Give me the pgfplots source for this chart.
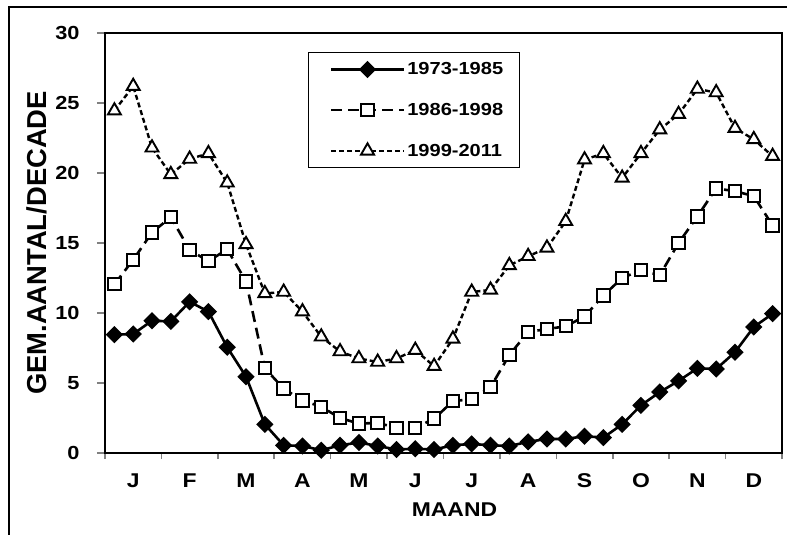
\documentclass[border=0pt]{standalone}
\usepackage{fontspec}
\setmainfont{Liberation Sans}[FakeStretch=1.15]
\newfontfamily\plainsans{Liberation Sans}
\usepackage{pgfplots}
\pgfplotsset{compat=1.18}
\pgfplotstableread{
x a b c
1 8.45 12.05 24.45
2 8.5 13.8 26.2
3 9.45 15.75 21.8
4 9.4 16.85 19.9
5 10.8 14.5 21.0
6 10.1 13.7 21.4
7 7.55 14.55 19.3
8 5.45 12.25 14.9
9 2.05 6.05 11.4
10 0.55 4.6 11.5
11 0.5 3.75 10.1
12 0.2 3.3 8.3
13 0.55 2.5 7.25
14 0.75 2.1 6.75
15 0.5 2.15 6.5
16 0.25 1.8 6.75
17 0.3 1.8 7.35
18 0.25 2.45 6.2
19 0.55 3.7 8.15
20 0.65 3.85 11.5
21 0.55 4.7 11.65
22 0.5 7.0 13.4
23 0.8 8.65 14.05
24 1.0 8.85 14.65
25 1.0 9.05 16.55
26 1.2 9.75 20.95
27 1.1 11.25 21.4
28 2.05 12.5 19.65
29 3.4 13.05 21.4
30 4.35 12.7 23.1
31 5.15 15.0 24.2
32 6.05 16.9 26.0
33 6.0 18.9 25.75
34 7.2 18.7 23.2
35 9.0 18.35 22.4
36 9.95 16.25 21.2
}\datatable
\begin{document}
\begin{tikzpicture}
\path[use as bounding box] (0,0) rectangle (787bp,535bp);
\draw[line width=1.4bp] (9bp,-5bp) -- (9bp,528bp) -- (800bp,528bp);
\begin{axis}[
  at={(105bp,82bp)}, anchor=south west,
  scale only axis, width=677bp, height=420bp,
  xmin=0.5, xmax=36.5, ymin=0, ymax=30,
  axis line style={line width=2.4bp},
  xtick={2,5,...,35},
  xticklabels={J,F,M,A,M,J,J,A,S,O,N,D},
  major x tick style={draw=none},
  minor xtick={0.5,3.5,...,36.5},
  minor x tick style={line width=1.6bp},
  minor tick length=6bp,
  ytick={0,5,...,30},
  major y tick style={line width=1.6bp},
  major tick length=8bp,
  tick align=outside,
  xtick pos=lower, ytick pos=left,
  yticklabel style={font=\fontsize{19}{22}\selectfont\bfseries, xshift=-14bp},
  xticklabel style={font=\fontsize{20}{23}\selectfont\bfseries, yshift=-9bp},
  /pgf/number format/assume math mode=true,
  xlabel={MAAND},
  xlabel style={font=\fontsize{20}{23}\selectfont\bfseries, xshift=11bp, yshift=-8bp},
  ylabel={\plainsans\bfseries\fontsize{27.5}{30}\selectfont GEM.AANTAL/DECADE},
  ylabel style={at={(rel axis cs:0,0.5)}, anchor=south, yshift=54bp},
  legend style={at={(0.2999,0.9548)}, anchor=north west, draw=black, line width=1.4bp,
     font=\fontsize{17.5}{21}\selectfont\bfseries, inner xsep=14bp, inner ysep=8bp,
     row sep=23bp, cells={anchor=west}},
  legend image code/.code={\path (-7bp,0bp); \draw[mark repeat=2,mark phase=2,#1] plot coordinates {(0bp,0bp) (36.5bp,0bp) (73bp,0bp)};},
]
\addplot[black, line width=2.6bp, mark=square*, mark size=4.8bp, mark options={solid, rotate=45, fill=black}] table[x=x, y=a] {\datatable};
\addlegendentry{1973-1985}
\addplot[black, line width=2.6bp, dash pattern=on 11bp off 6bp, mark=square*, mark size=6.2bp, mark options={solid, fill=white, line width=2bp}] table[x=x, y=b] {\datatable};
\addlegendentry{1986-1998}
\addplot[black, line width=2.4bp, dash pattern=on 5bp off 3bp, mark=triangle*, mark size=7.5bp, mark options={solid, fill=white, line width=1.9bp}] table[x=x, y=c] {\datatable};
\addlegendentry{1999-2011}
\end{axis}
\end{tikzpicture}
\end{document}
